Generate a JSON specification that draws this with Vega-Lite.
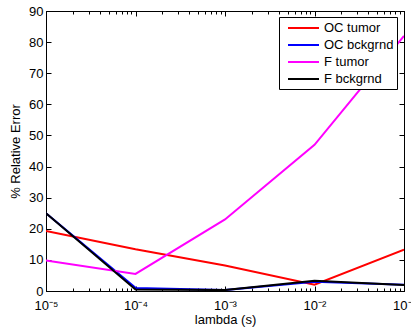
{
  "$schema": "https://vega.github.io/schema/vega-lite/v6.json",
  "width": 358,
  "height": 280,
  "autosize": "none",
  "padding": {"left": 46, "top": 11, "right": 7, "bottom": 40},
  "background": "white",
  "config": {
    "view": {"stroke": "black", "strokeWidth": 1},
    "font": "Liberation Sans",
    "axis": {
      "grid": false,
      "domainColor": "black",
      "tickColor": "black",
      "labelColor": "black",
      "titleColor": "black",
      "labelFont": "Liberation Sans",
      "titleFont": "Liberation Sans",
      "labelFontSize": 13,
      "titleFontSize": 13,
      "titleFontWeight": "normal"
    }
  },
  "data": {
    "values": [
      {"lambda": 0.00001, "series": "OC tumor", "value": 19.3},
      {"lambda": 0.0001, "series": "OC tumor", "value": 13.4},
      {"lambda": 0.001, "series": "OC tumor", "value": 8.2},
      {"lambda": 0.01, "series": "OC tumor", "value": 2.0},
      {"lambda": 0.1, "series": "OC tumor", "value": 13.3},
      {"lambda": 0.00001, "series": "OC bckgrnd", "value": 25.0},
      {"lambda": 0.0001, "series": "OC bckgrnd", "value": 1.0},
      {"lambda": 0.001, "series": "OC bckgrnd", "value": 0.3},
      {"lambda": 0.01, "series": "OC bckgrnd", "value": 3.0},
      {"lambda": 0.1, "series": "OC bckgrnd", "value": 2.0},
      {"lambda": 0.00001, "series": "F tumor", "value": 9.8},
      {"lambda": 0.0001, "series": "F tumor", "value": 5.5},
      {"lambda": 0.001, "series": "F tumor", "value": 23.0},
      {"lambda": 0.01, "series": "F tumor", "value": 47.0},
      {"lambda": 0.1, "series": "F tumor", "value": 82.0},
      {"lambda": 0.00001, "series": "F bckgrnd", "value": 25.0},
      {"lambda": 0.0001, "series": "F bckgrnd", "value": 0.5},
      {"lambda": 0.001, "series": "F bckgrnd", "value": 0.3},
      {"lambda": 0.01, "series": "F bckgrnd", "value": 3.3},
      {"lambda": 0.1, "series": "F bckgrnd", "value": 1.9}
    ]
  },
  "layer": [
    {
      "mark": {"type": "point", "opacity": 0},
      "encoding": {
        "x": {
          "field": "lambda", "type": "quantitative",
          "scale": {"type": "log", "domain": [0.00001, 0.1]},
          "axis": {
            "orient": "top", "labels": false, "title": null,
            "values": [0.00001,0.00002,0.00003,0.00004,0.00005,0.00006,0.00007,0.00008,0.00009,0.0001,0.0002,0.0003,0.0004,0.0005,0.0006,0.0007,0.0008,0.0009,0.001,0.002,0.003,0.004,0.005,0.006,0.007,0.008,0.009,0.01,0.02,0.03,0.04,0.05,0.06,0.07,0.08,0.09,0.1],
            "tickSize": {"condition": {"test": "abs(log(datum.value)/LN10 - round(log(datum.value)/LN10)) < 0.01", "value": -5}, "value": -3}
          }
        },
        "y": {
          "field": "value", "type": "quantitative",
          "scale": {"domain": [0, 90], "nice": false, "zero": false},
          "axis": {"orient": "right", "labels": false, "title": null, "values": [0,10,20,30,40,50,60,70,80,90], "tickSize": -5}
        }
      }
    },
    {
      "mark": {"type": "line", "strokeWidth": 2, "clip": true},
      "encoding": {
        "x": {
          "field": "lambda", "type": "quantitative",
          "scale": {"type": "log", "domain": [0.00001, 0.1]},
          "axis": {
            "orient": "bottom", "title": "lambda (s)", "titlePadding": 1,
            "values": [0.00001,0.00002,0.00003,0.00004,0.00005,0.00006,0.00007,0.00008,0.00009,0.0001,0.0002,0.0003,0.0004,0.0005,0.0006,0.0007,0.0008,0.0009,0.001,0.002,0.003,0.004,0.005,0.006,0.007,0.008,0.009,0.01,0.02,0.03,0.04,0.05,0.06,0.07,0.08,0.09,0.1],
            "labelExpr": "abs(log(datum.value)/LN10 - round(log(datum.value)/LN10)) < 0.01 ? '10⁻' + ['⁰','¹','²','³','⁴','⁵'][-round(log(datum.value)/LN10)] : ''",
            "labelOverlap": false,
            "labelFlush": false,
            "labelPadding": {"condition": {"test": "abs(log(datum.value)/LN10 - round(log(datum.value)/LN10)) < 0.01", "value": 13}, "value": 11},
            "tickSize": {"condition": {"test": "abs(log(datum.value)/LN10 - round(log(datum.value)/LN10)) < 0.01", "value": -5}, "value": -3}
          }
        },
        "y": {
          "field": "value", "type": "quantitative",
          "scale": {"domain": [0, 90], "nice": false, "zero": false},
          "axis": {"title": "% Relative Error", "values": [0,10,20,30,40,50,60,70,80,90], "tickSize": -5, "labelPadding": 8, "titlePadding": 6}
        },
        "color": {
          "field": "series", "type": "nominal",
          "scale": {"domain": ["OC tumor", "OC bckgrnd", "F tumor", "F bckgrnd"], "range": ["#ff0000", "#0000ff", "#ff00ff", "#000000"]},
          "legend": {
            "title": null,
            "orient": "none",
            "legendX": 233,
            "legendY": 6,
            "symbolType": "M-0.286,0H4.14",
            "symbolSize": 196,
            "symbolStrokeWidth": 2,
            "labelFontSize": 13,
            "labelFont": "Liberation Sans",
            "labelColor": "black",
            "strokeColor": "black",
            "fillColor": "white",
            "padding": 3,
            "rowPadding": 2,
            "labelOffset": 26
          }
        }
      }
    }
  ],
  "resolve": {"scale": {"x": "independent", "y": "independent"}, "axis": {"x": "independent", "y": "independent"}}
}
